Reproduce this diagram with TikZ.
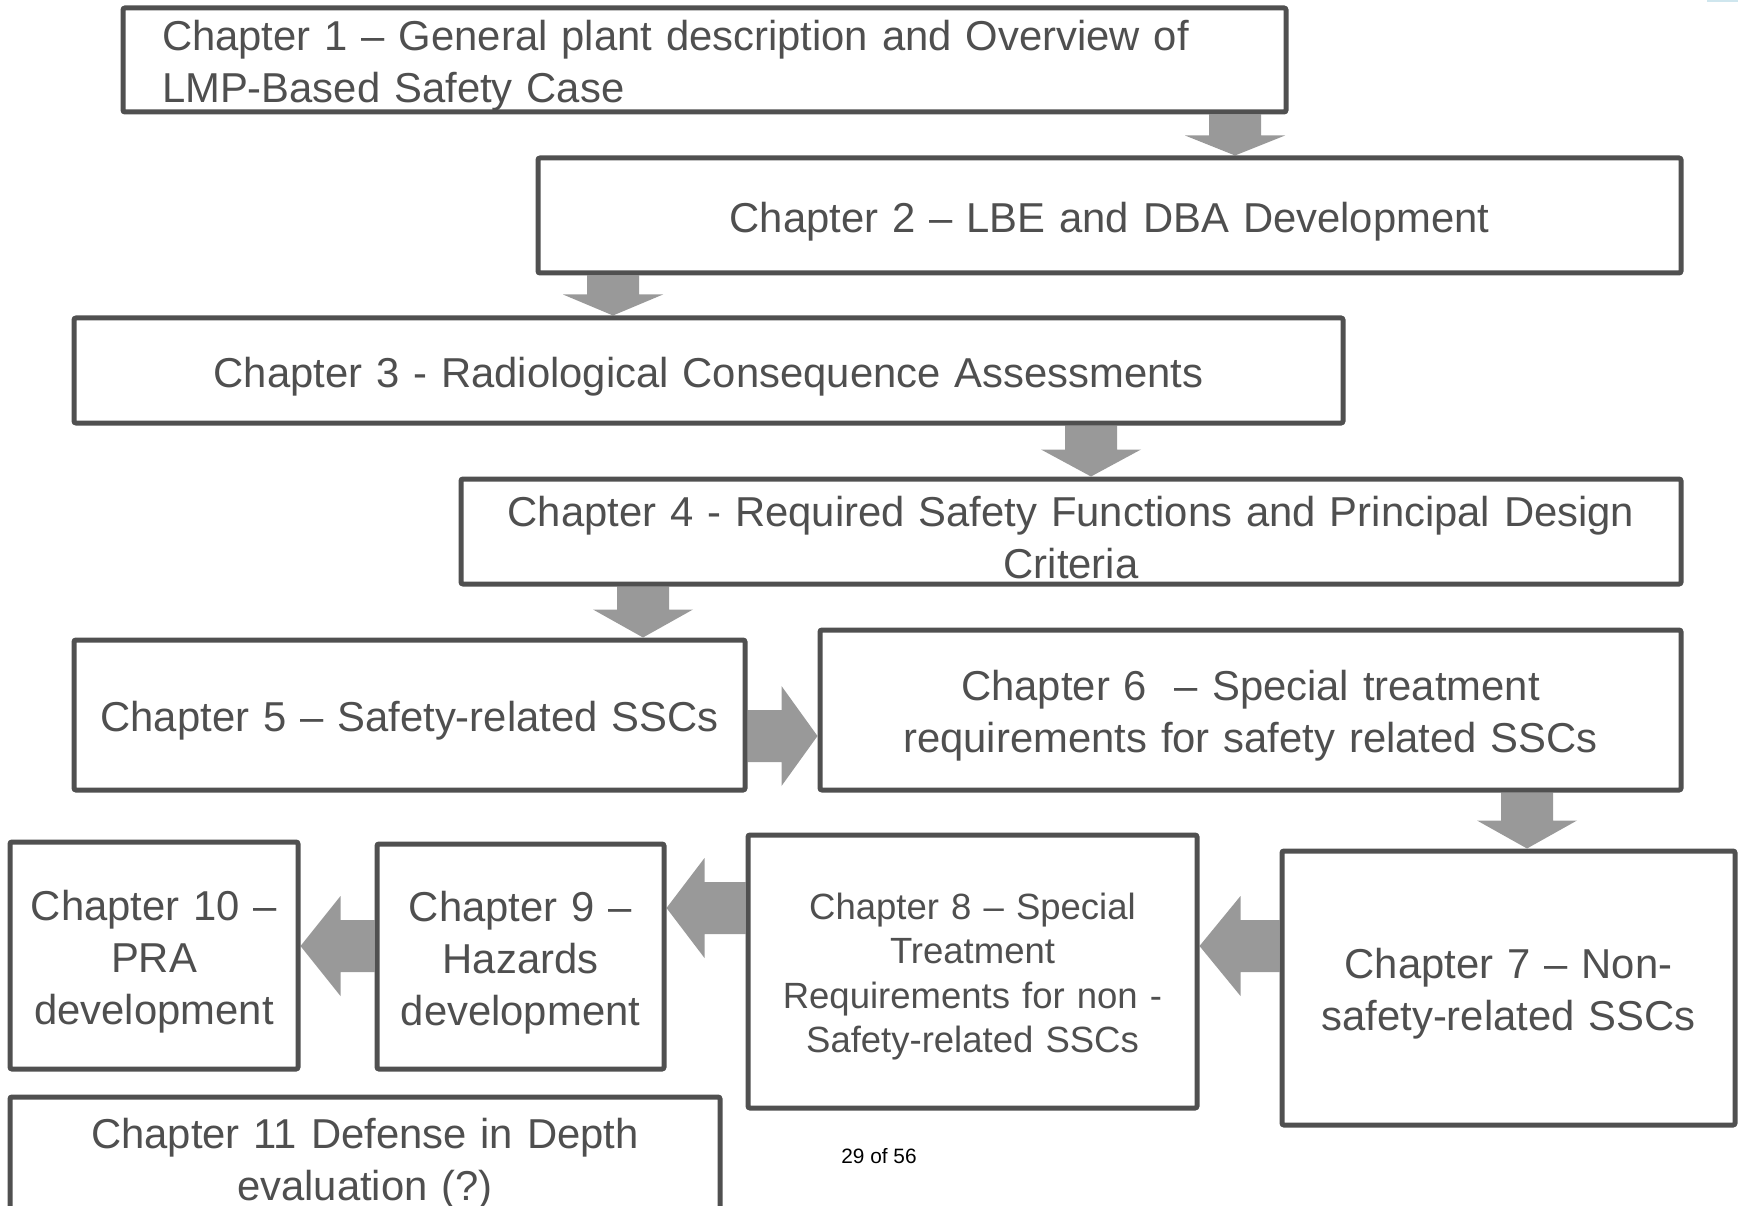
\documentclass[tikz,border=0pt]{standalone}
\usepackage{fontspec}
\setmainfont{Liberation Sans}
\usetikzlibrary{calc,backgrounds}
\definecolor{edge}{HTML}{505050}
\definecolor{ink}{HTML}{4F4F4F}
\definecolor{blk}{HTML}{999999}
\definecolor{accent}{HTML}{CFE6EE}
\tikzset{
  chbox/.style={draw=edge, line width=5pt, fill=white, rounded corners=2pt,
    inner sep=0pt, align=center, text=ink,
    font=\fontsize{41.8pt}{52pt}\selectfont,
    execute at begin node={\rule{0pt}{1em}}},
  blockarrow/.style={fill=blk}
}
% block arrows between chapter boxes
% #1 from node, #2 to node, #3 axis position, #4 head length
\newcommand\chdown[4]{\fill[blockarrow] let \p1=(#1.south), \p2=(#2.north) in
  ({#3pt-26pt},\y1) -- ({#3pt+26pt},\y1) -- ({#3pt+26pt},{\y2+#4pt})
  -- ({#3pt+50pt},{\y2+#4pt}) -- (#3pt,\y2) -- ({#3pt-50pt},{\y2+#4pt})
  -- ({#3pt-26pt},{\y2+#4pt}) -- cycle;}
\newcommand\chright[4]{\fill[blockarrow] let \p1=(#1.east), \p2=(#2.west) in
  (\x1,{-#3pt+26pt}) -- ({\x2-#4pt},{-#3pt+26pt}) -- ({\x2-#4pt},{-#3pt+50pt})
  -- (\x2,-#3pt) -- ({\x2-#4pt},{-#3pt-50pt}) -- ({\x2-#4pt},{-#3pt-26pt})
  -- (\x1,{-#3pt-26pt}) -- cycle;}
\newcommand\chleft[4]{\fill[blockarrow] let \p1=(#1.west), \p2=(#2.east) in
  (\x1,{-#3pt+26pt}) -- ({\x2+#4pt},{-#3pt+26pt}) -- ({\x2+#4pt},{-#3pt+50pt})
  -- (\x2,-#3pt) -- ({\x2+#4pt},{-#3pt-50pt}) -- ({\x2+#4pt},{-#3pt-26pt})
  -- (\x1,{-#3pt-26pt}) -- cycle;}
\begin{document}
\begin{tikzpicture}[x=1pt,y=-1pt]
\useasboundingbox (0,0) rectangle (1738,1206);
\clip (0,0) rectangle (1738,1206);
\fill[accent] (1707,0) rectangle (1738,2);

\node[chbox, minimum width=1163pt, minimum height=104pt, align=left,
  text width=1085pt, inner xsep=39pt] (c1) at (704.5,60)
  {Chapter 1 -- General plant description and Overview of\\LMP-Based Safety Case};
\node[chbox, minimum width=1143pt, minimum height=115pt, text width=1120pt]
  (c2) at (1109.5,215.5) {Chapter 2 -- LBE and DBA Development};
\node[chbox, minimum width=1269pt, minimum height=105pt, text width=1240pt]
  (c3) at (708.5,370.5) {Chapter 3 - Radiological Consequence Assessments};
\node[chbox, minimum width=1220pt, minimum height=105pt, text width=1200pt]
  (c4) at (1071,531.5)
  {Chapter 4 - Required Safety Functions and Principal Design\\Criteria};
\node[chbox, minimum width=671pt, minimum height=150pt, text width=660pt]
  (c5) at (409.5,715) {Chapter 5 -- Safety-related SSCs};
\node[chbox, minimum width=861pt, minimum height=160pt, text width=840pt]
  (c6) at (1250.5,710)
  {Chapter 6 \ -- Special treatment\\requirements for safety related SSCs};
\node[chbox, minimum width=453pt, minimum height=274pt, text width=440pt]
  (c7) at (1508.5,988) {Chapter 7 -- Non-\\safety-related SSCs};
\node[chbox, minimum width=449pt, minimum height=273pt, text width=430pt,
  font=\fontsize{36.5pt}{44.5pt}\selectfont]
  (c8) at (972.5,971.5)
  {Chapter 8 -- Special\\Treatment\\Requirements for non -\\Safety-related SSCs};
\node[chbox, minimum width=287pt, minimum height=225pt, text width=280pt]
  (c9) at (520.5,956.5) {Chapter 9 --\\Hazards\\development};
\node[chbox, minimum width=288pt, minimum height=227pt, text width=280pt]
  (c10) at (154,955.5) {Chapter 10 --\\PRA\\development};
\node[chbox, minimum width=710pt, minimum height=122pt, text width=690pt]
  (c11) at (365,1158) {Chapter 11 Defense in Depth\\evaluation (?)};

\node[font=\fontsize{20.8pt}{25pt}\selectfont, text=black, inner sep=0pt]
  (pg) at (879,1156) {29 of 56};

\begin{scope}[on background layer]
  \chdown{c1}{c2}{1235}{20}
  \chdown{c2}{c3}{613}{21}
  \chdown{c3}{c4}{1091}{27}
  \chdown{c4}{c5}{643}{28}
  \chright{c5}{c6}{736}{36}
  \chdown{c6}{c7}{1527}{28}
  \chleft{c7}{c8}{946}{41}
  \chleft{c8}{c9}{908}{38}
  \chleft{c9}{c10}{946}{40}
\end{scope}
\end{tikzpicture}
\end{document}
